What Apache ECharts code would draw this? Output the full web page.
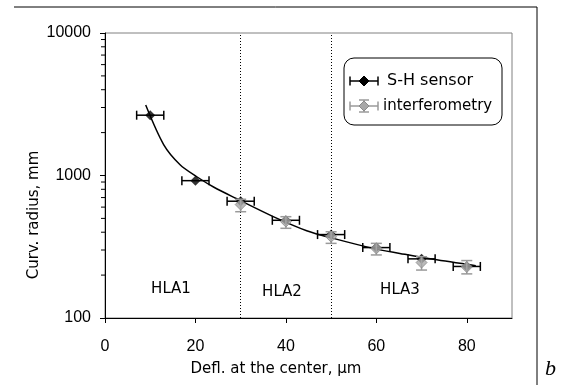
<!DOCTYPE html>
<html>
<head>
<meta charset="utf-8">
<script src="https://cdn.jsdelivr.net/npm/echarts@6/dist/echarts.min.js"></script>
<style>
  html, body { margin: 0; padding: 0; background: #fff; }
  #chart { width: 563px; height: 385px; }
</style>
</head>
<body>
<div id="chart"></div>
<script>
// S-H sensor: deflection, radius, horizontal error range
const shX = [10, 20, 30, 40, 50, 60, 70, 80];
const shY = [2650, 920, 660, 485, 385, 312, 260, 230];
const shXLow = [7, 17, 27, 37, 47, 57, 67, 77];
const shXHigh = [13, 23, 33, 43, 53, 63, 73, 83];

// interferometry: deflection, radius, vertical error range
const ifX = [30, 40, 50, 60, 70, 80];
const ifY = [625, 475, 372, 308, 245, 228];
const ifYLow = [557, 426, 334, 277, 217, 204];
const ifYHigh = [681, 514, 403, 334, 269, 253];

// fitted curve
const fitX = [9, 13, 16.6, 20.3, 24, 29, 37.2, 44.6, 50.5, 59.3, 65.2, 72.6, 82];
const fitY = [3120, 1640, 1190, 980, 830, 690, 515, 410, 362, 308, 284, 258, 233];

const yMinorTicks = [200, 300, 400, 500, 600, 700, 800, 900, 2000, 3000, 4000, 5000, 6000, 7000, 8000, 9000];
const regionBounds = [30, 50];
const regionNames = ['HLA1', 'HLA2', 'HLA3'];

const font = 'DejaVu Sans';
const chart = echarts.init(document.getElementById('chart'));

function xErrItem(params, api) {
  const y = api.value(1);
  const a = api.coord([api.value(2), y]);
  const b = api.coord([api.value(3), y]);
  const st = { stroke: '#000', lineWidth: 1.5 };
  return {
    type: 'group',
    children: [
      { type: 'line', shape: { x1: a[0], y1: a[1], x2: b[0], y2: b[1] }, style: st },
      { type: 'line', shape: { x1: a[0], y1: a[1] - 4.5, x2: a[0], y2: a[1] + 4.5 }, style: st },
      { type: 'line', shape: { x1: b[0], y1: b[1] - 4.5, x2: b[0], y2: b[1] + 4.5 }, style: st }
    ]
  };
}

function yErrItem(params, api) {
  const x = api.value(0);
  const a = api.coord([x, api.value(1)]);
  const b = api.coord([x, api.value(2)]);
  const st = { stroke: '#9a9a9a', lineWidth: 1.5 };
  return {
    type: 'group',
    children: [
      { type: 'line', shape: { x1: a[0], y1: a[1], x2: b[0], y2: b[1] }, style: st },
      { type: 'line', shape: { x1: a[0] - 5.5, y1: a[1], x2: a[0] + 5.5, y2: a[1] }, style: st },
      { type: 'line', shape: { x1: b[0] - 5.5, y1: b[1], x2: b[0] + 5.5, y2: b[1] }, style: st }
    ]
  };
}

function minorTickItem(params, api) {
  const p = api.coord([0, api.value(0)]);
  return {
    type: 'line',
    shape: { x1: p[0] - 4, y1: p[1], x2: p[0], y2: p[1] },
    style: { stroke: '#000', lineWidth: 1 }
  };
}

const legendX = 344, legendY = 58;
function legendRow(y, color, withYErr, diamondFill, diamondStroke) {
  const st = { stroke: color, lineWidth: 1.5 };
  const kids = [
    { type: 'line', shape: { x1: 350, y1: y, x2: 378, y2: y }, style: st },
    { type: 'line', shape: { x1: 350, y1: y - 4.5, x2: 350, y2: y + 4.5 }, style: st },
    { type: 'line', shape: { x1: 378, y1: y - 4.5, x2: 378, y2: y + 4.5 }, style: st }
  ];
  if (withYErr) {
    kids.push(
      { type: 'line', shape: { x1: 364, y1: y - 6, x2: 364, y2: y + 6 }, style: st },
      { type: 'line', shape: { x1: 359, y1: y - 6, x2: 369, y2: y - 6 }, style: st },
      { type: 'line', shape: { x1: 359, y1: y + 6, x2: 369, y2: y + 6 }, style: st }
    );
  }
  kids.push({
    type: 'polygon',
    shape: { points: [[364, y - 5], [369, y], [364, y + 5], [359, y]] },
    style: { fill: diamondFill, stroke: diamondStroke, lineWidth: 1 }
  });
  return kids;
}

const option = {
  animation: false,
  backgroundColor: '#fff',
  grid: {
    left: 105, right: 51, top: 33, bottom: 67,
    show: true, borderColor: '#808080', borderWidth: 1
  },
  xAxis: {
    type: 'value',
    min: 0, max: 90, interval: 20,
    axisLine: { onZero: false, lineStyle: { color: '#000', width: 1 } },
    axisTick: { length: 5, lineStyle: { color: '#000' } },
    axisLabel: {
      color: '#000', fontFamily: 'Liberation Sans', fontSize: 16, margin: 21,
      showMaxLabel: false
    },
    splitLine: { show: false }
  },
  yAxis: {
    type: 'log', logBase: 10,
    min: 100, max: 10000,
    axisLine: { show: true, lineStyle: { color: '#000', width: 1 } },
    axisTick: { show: true, length: 5, lineStyle: { color: '#000' } },
    axisLabel: {
      color: '#000', fontFamily: 'Liberation Sans', fontSize: 16, margin: 14,
      formatter: v => String(Math.round(v))
    },
    splitLine: { show: false }
  },
  graphic: [
    // outer frame
    { type: 'line', shape: { x1: 14, y1: 7, x2: 537, y2: 7 }, style: { stroke: '#000', lineWidth: 1 } },
    { type: 'line', shape: { x1: 537, y1: 7, x2: 537, y2: 385 }, style: { stroke: '#000', lineWidth: 1 } },
    {
      type: 'text', left: 545, top: 358,
      style: { text: 'b', font: 'italic 22px "Liberation Serif", "DejaVu Serif", serif', fill: '#000' }
    },
    // axis names
    {
      type: 'text', x: 276, y: 369,
      style: {
        text: 'Defl. at the center, \u03bcm', font: '15px "' + font + '"', fill: '#000',
        align: 'center', verticalAlign: 'middle'
      }
    },
    {
      type: 'text', x: 34, y: 215, rotation: Math.PI / 2,
      style: {
        text: 'Curv. radius, mm', font: '15px "' + font + '"', fill: '#000',
        align: 'center', verticalAlign: 'middle'
      }
    },
    // region labels
    {
      type: 'text', x: 171, y: 289,
      style: { text: regionNames[0], font: '15px "' + font + '"', fill: '#000', align: 'center', verticalAlign: 'middle' }
    },
    {
      type: 'text', x: 282, y: 292,
      style: { text: regionNames[1], font: '15px "' + font + '"', fill: '#000', align: 'center', verticalAlign: 'middle' }
    },
    {
      type: 'text', x: 400, y: 290,
      style: { text: regionNames[2], font: '15px "' + font + '"', fill: '#000', align: 'center', verticalAlign: 'middle' }
    },
    // legend
    {
      type: 'group', z: 100,
      children: [
        {
          type: 'rect',
          shape: { x: legendX, y: legendY, width: 158, height: 67, r: 10 },
          style: { fill: '#fff', stroke: '#000', lineWidth: 1 }
        },
        ...legendRow(81, '#000', false, '#000', '#000'),
        {
          type: 'text', x: 387, y: 81,
          style: { text: 'S-H sensor', font: '16px "' + font + '"', fill: '#000', verticalAlign: 'middle' }
        },
        ...legendRow(106, '#9a9a9a', true, '#a8a8a8', '#8a8a8a'),
        {
          type: 'text', x: 383, y: 106,
          style: { text: 'interferometry', font: '15px "' + font + '"', fill: '#000', verticalAlign: 'middle' }
        }
      ]
    }
  ],
  series: [
    {
      type: 'custom',
      renderItem: minorTickItem,
      data: yMinorTicks.map(v => [v]),
      encode: { y: 0 },
      silent: true,
      clip: false,
      z: 1
    },
    {
      name: 'fit',
      type: 'line',
      data: fitX.map((x, i) => [x, fitY[i]]),
      smooth: 0.3,
      showSymbol: false,
      lineStyle: { color: '#000', width: 1.5 },
      silent: true,
      z: 2,
      markLine: {
        silent: true,
        symbol: 'none',
        label: { show: false },
        lineStyle: { type: [1, 2], color: '#000', width: 1 },
        data: regionBounds.map(v => ({ xAxis: v }))
      }
    },
    {
      type: 'custom',
      renderItem: xErrItem,
      data: shX.map((x, i) => [x, shY[i], shXLow[i], shXHigh[i]]),
      encode: { x: 0, y: 1 },
      z: 3
    },
    {
      name: 'S-H sensor',
      type: 'scatter',
      symbol: 'diamond',
      symbolSize: 10,
      itemStyle: { color: '#000' },
      data: shX.map((x, i) => [x, shY[i]]),
      z: 4
    },
    {
      type: 'custom',
      renderItem: yErrItem,
      data: ifX.map((x, i) => [x, ifYLow[i], ifYHigh[i]]),
      encode: { x: 0, y: [1, 2] },
      z: 5
    },
    {
      name: 'interferometry',
      type: 'scatter',
      symbol: 'diamond',
      symbolSize: 11,
      itemStyle: { color: '#a8a8a8', borderColor: '#8a8a8a', borderWidth: 1 },
      data: ifX.map((x, i) => [x, ifY[i]]),
      z: 6
    }
  ]
};

chart.setOption(option);
</script>
</body>
</html>
